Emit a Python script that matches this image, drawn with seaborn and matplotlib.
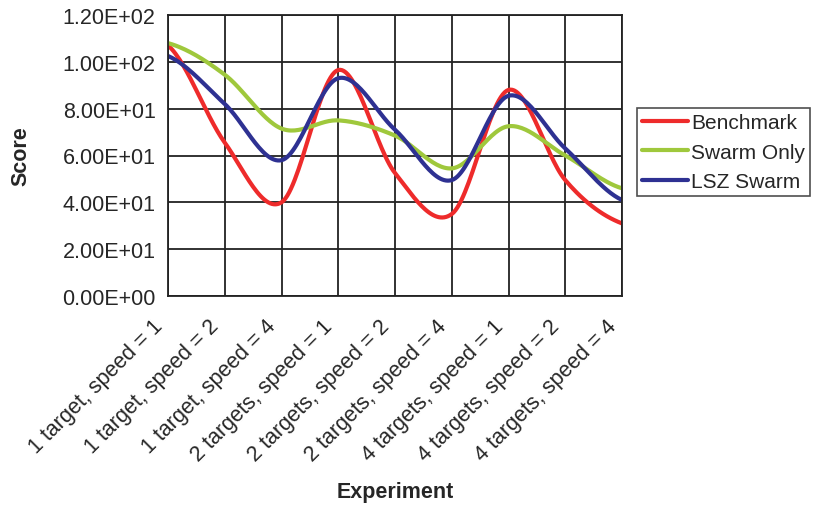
# line chart: score per experiment for three methods
# smoothed lines like the excel original

import numpy as np
import pandas as pd
import matplotlib.pyplot as plt
import matplotlib.transforms as mtrans
import seaborn as sns
from matplotlib.ticker import FuncFormatter

experiments = ['1 target, speed = 1', '1 target, speed = 2', '1 target, speed = 4',
               '2 targets, speed = 1', '2 targets, speed = 2', '2 targets, speed = 4',
               '4 targets, speed = 1', '4 targets, speed = 2', '4 targets, speed = 4']

benchmark = [107, 65.5, 40, 96.5, 52.5, 35, 88, 49.5, 31]
swarmOnly = [108, 94.5, 71.5, 75, 68.5, 54.5, 72.5, 60, 46]
lszSwarm = [102.5, 82, 58, 93, 71, 49.5, 85.5, 63, 41]

series = {'Benchmark': benchmark, 'Swarm Only': swarmOnly, 'LSZ Swarm': lszSwarm}
colors = {'Benchmark': '#ee2b2b', 'Swarm Only': '#9fc83c', 'LSZ Swarm': '#2e3192'}

yticks = [0, 20, 40, 60, 80, 100, 120]

fs = 15.5


# catmull-rom smoothing, same idea as excel "smoothed line"
def smooth(vals, steps=30):
    p = np.asarray(vals, dtype=float)
    p = np.concatenate([[p[0]], p, [p[-1]]])
    xs, ys = [], []
    for i in range(1, len(p) - 2):
        t = np.linspace(0, 1, steps, endpoint=False)
        p0, p1, p2, p3 = p[i - 1], p[i], p[i + 1], p[i + 2]
        y = 0.5 * ((2 * p1) + (-p0 + p2) * t + (2 * p0 - 5 * p1 + 4 * p2 - p3) * t ** 2
                   + (-p0 + 3 * p1 - 3 * p2 + p3) * t ** 3)
        xs.extend(i - 1 + t)
        ys.extend(y)
    xs.append(len(vals) - 1)
    ys.append(vals[-1])
    return xs, ys


frames = []
for name, vals in series.items():
    x, y = smooth(vals)
    frames.append(pd.DataFrame({'x': x, 'Score': y, 'Series': name}))
df = pd.concat(frames, ignore_index=True)

sns.set_style('white')
plt.rcParams['font.family'] = ['Liberation Sans', 'DejaVu Sans']

fig = plt.figure(figsize=(8.13, 5.06), dpi=100)
ax = fig.add_axes([168 / 813, 1 - 297 / 506, (622 - 168) / 813, (297 - 16) / 506])

sns.lineplot(data=df, x='x', y='Score', hue='Series', palette=colors,
             sort=False, estimator=None, linewidth=3, ax=ax)

ax.set_xlim(0, len(experiments) - 1)
ax.set_ylim(0, 120)
ax.set_xticks(range(len(experiments)))
ax.set_xticklabels([])
# rotated category labels, ending just left of each tick like the original
trans = ax.get_xaxis_transform() + mtrans.ScaledTranslation(-0.16, -0.19, fig.dpi_scale_trans)
for i, lab in enumerate(experiments):
    ax.text(i, 0, lab, transform=trans, rotation=45, ha='right', va='top',
            rotation_mode='anchor', fontsize=fs, clip_on=False)

ax.set_yticks(yticks)
ax.yaxis.set_major_formatter(FuncFormatter(lambda v, pos: f'{v:.2E}'))
ax.tick_params(axis='y', labelsize=fs, length=5, width=1.2, color='#222222', pad=4)
ax.tick_params(axis='x', length=5, width=1.2, color='#222222')
ax.grid(True, color='#222222', linewidth=1.3)
for s in ax.spines.values():
    s.set_color('#222222')
    s.set_linewidth(1.3)

ax.set_xlabel('')
fig.text(395 / 813, 1 - 493 / 506, 'Experiment', fontsize=fs, fontweight='bold',
         ha='center', va='center')
ax.set_ylabel('Score', fontsize=fs, fontweight='bold', labelpad=22)

ax.legend_.remove()
handles, labels = ax.get_legend_handles_labels()
leg = fig.legend(handles, labels, loc='upper left', bbox_to_anchor=(637 / 813, 1 - 109 / 506),
                 fontsize=15, frameon=True, fancybox=False, borderpad=0.25,
                 handlelength=2.2, handletextpad=0.15, labelspacing=0.5, borderaxespad=0)
leg.get_frame().set_edgecolor('#222222')
leg.get_frame().set_linewidth(1.2)
for line in leg.get_lines():
    line.set_linewidth(3)

fig.savefig('out.png', dpi=100)
